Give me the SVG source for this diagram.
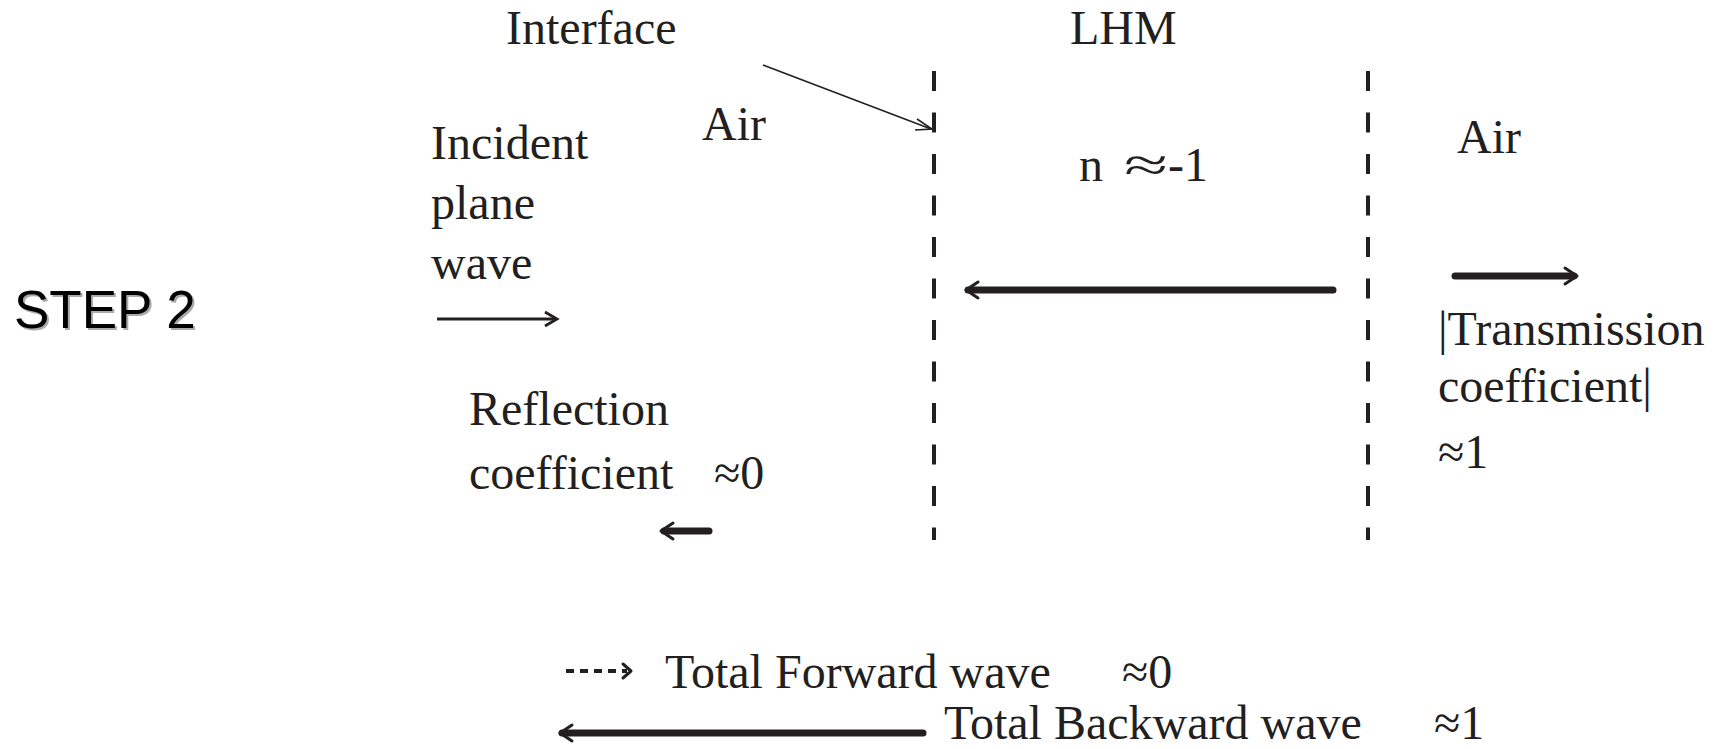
<svg xmlns="http://www.w3.org/2000/svg" width="1717" height="749" viewBox="0 0 1717 749">
<defs>
<style>
.t{font-family:"Liberation Serif","Times New Roman",serif;font-size:48px;fill:#231f20}
.step{font-family:"Liberation Sans",Arial,sans-serif;font-size:53px}
.dash{stroke:#231f20;stroke-width:4;stroke-dasharray:20 21.5;fill:none}
.thin{stroke:#231f20;stroke-width:1.6;fill:none}
.mid{stroke:#231f20;stroke-width:2.8;fill:none}
.thick{stroke:#231f20;stroke-width:7;stroke-linecap:round;fill:none}
.head{stroke:#231f20;stroke-width:3;fill:none;stroke-linecap:round;stroke-linejoin:round}
</style>
</defs>
<rect width="1717" height="749" fill="#fff"/>
<g id="step2">
<text class="step" x="16" y="330" fill="#aaa">STEP 2</text>
<text class="step" x="14" y="328" fill="#000">STEP 2</text>
</g>
<g id="interface-label"><text class="t" x="506" y="44">Interface</text></g>
<g id="lhm-label"><text class="t" x="1070" y="44">LHM</text></g>
<g id="air-left"><text class="t" x="702" y="140">Air</text></g>
<g id="air-right"><text class="t" x="1457" y="153">Air</text></g>
<g id="index"><text class="t" x="1079" y="181">n<tspan x="1124" textLength="44" lengthAdjust="spacingAndGlyphs">≈</tspan><tspan x="1168">-1</tspan></text></g>
<g id="incident">
<text class="t" x="431" y="159">Incident</text>
<text class="t" x="431" y="219">plane</text>
<text class="t" x="431" y="279">wave</text>
</g>
<g id="reflection">
<text class="t" x="469" y="425">Reflection</text>
<text class="t" x="469" y="489">coefficient</text>
<text class="t" x="714" y="489">≈0</text>
</g>
<g id="transmission">
<text class="t" x="1438" y="345">|Transmission</text>
<text class="t" x="1438" y="402">coefficient|</text>
<text class="t" x="1438" y="468">≈1</text>
</g>
<g id="legend-forward">
<text class="t" x="665" y="688">Total Forward wave</text>
<text class="t" x="1122" y="688">≈0</text>
</g>
<g id="legend-backward">
<text class="t" x="944" y="739">Total Backward wave</text>
<text class="t" x="1434" y="739">≈1</text>
</g>
<g id="connectors">
<line class="dash" x1="934" y1="71" x2="934" y2="540"/>
<line class="dash" x1="1368" y1="71" x2="1368" y2="540"/>
<line class="thin" x1="763" y1="65" x2="931" y2="129"/>
<polyline class="thin" points="917,119 932,129 915,130"/>
<line class="mid" x1="437" y1="319" x2="556" y2="319"/>
<polyline class="mid" points="545,312 557,319 545,326"/>
<line class="thick" x1="968" y1="290" x2="1333" y2="290"/>
<polyline class="head" points="978,282 966,290 978,298"/>
<line class="thick" x1="1455" y1="276" x2="1574" y2="276"/>
<polyline class="head" points="1565,268 1577,276 1565,284"/>
<line class="thick" x1="664" y1="531" x2="709" y2="531"/>
<polyline class="head" points="673,523 661,531 673,539"/>
<line x1="566" y1="671" x2="627" y2="671" stroke="#231f20" stroke-width="4" stroke-dasharray="8 6"/>
<polyline class="head" points="623,664 631,671 623,678"/>
<line class="thick" x1="562" y1="733" x2="923" y2="733"/>
<polyline class="head" points="572,725 560,733 572,741"/>
</g>
</svg>
